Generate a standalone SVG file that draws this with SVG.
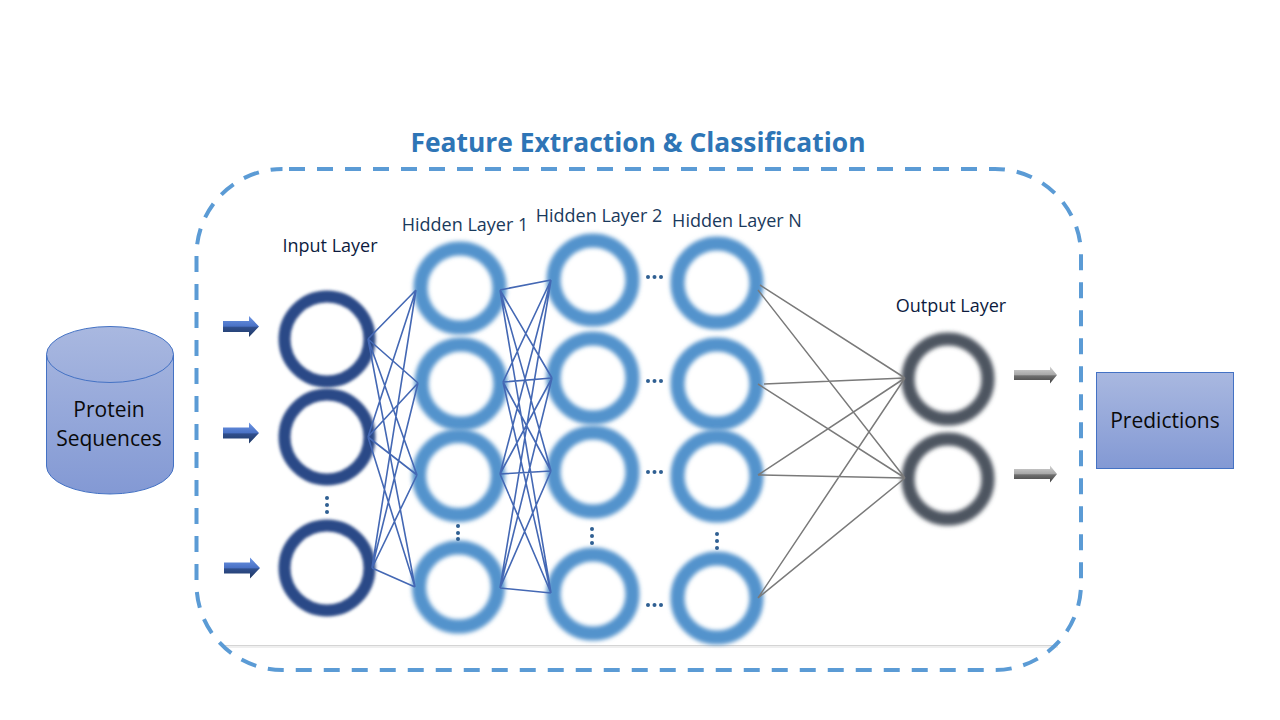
<svg xmlns="http://www.w3.org/2000/svg" xmlns:xlink="http://www.w3.org/1999/xlink" width="1280" height="720" viewBox="0 0 1280 720">
<style>
text{font-family:"Open Sans","Noto Sans","Liberation Sans",sans-serif;text-anchor:middle}
.in{fill:none;stroke:#2B4A87;stroke-width:12;filter:url(#b1)}
.hid{fill:none;stroke:#5393CC;stroke-width:14;filter:url(#b)}
.out{fill:none;stroke:#4D5560;stroke-width:13;filter:url(#b)}
.bl{stroke:#4468B4;stroke-width:1.600;fill:none}
.gr{stroke:#7A7A7A;stroke-width:1.500;fill:none}
.lab{font-size:18px;fill:#1A3A5C}
.lab2{font-size:18px;fill:#0D1B3E}
.dot{fill:#2F5F92}
.node{font-size:21px;fill:#0A0A0A}
.shape{fill:url(#g);stroke:#4472C4;stroke-width:1}
</style>
<defs>
<filter id="b" x="-20%" y="-20%" width="140%" height="140%"><feGaussianBlur stdDeviation="2.200"/></filter>
<filter id="b1" x="-20%" y="-20%" width="140%" height="140%"><feGaussianBlur stdDeviation="1.500"/></filter>
<linearGradient id="g" x1="0" y1="0" x2="0" y2="1"><stop offset="0" stop-color="#A9B8E0"/><stop offset="1" stop-color="#8399D4"/></linearGradient>
<linearGradient id="ab" x1="0" y1="0" x2="0" y2="1"><stop offset="0" stop-color="#6E96E4"/><stop offset="0.48" stop-color="#4A72C6"/><stop offset="0.55" stop-color="#2F4E8C"/><stop offset="1" stop-color="#1F3864"/></linearGradient>
<linearGradient id="ag" x1="0" y1="0" x2="0" y2="1"><stop offset="0" stop-color="#D4D4D4"/><stop offset="0.48" stop-color="#A8A8A8"/><stop offset="0.55" stop-color="#707070"/><stop offset="1" stop-color="#404040"/></linearGradient>
<polygon id="ah" points="0,-5.500 26,-5.500 26,-10.500 36,0 26,10.500 26,5.500 0,5.500"/>
<polygon id="ah2" points="0,-5 36,-5 36,-8.500 43,0 36,8.500 36,5 0,5"/>
</defs>
<rect width="1280" height="720" fill="#fff"/>
<text x="638" y="152" font-size="26.400" font-weight="700" fill="#2E75B6">Feature Extraction &amp; Classification</text>
<g id="frame-base"><rect x="222" y="645" width="836" height="3" fill="#EFEFEF"/><line x1="222" y1="645.5" x2="1058" y2="645.5" stroke="#D4D4D4"/></g>
<rect id="frame" x="196.500" y="169" width="884.500" height="501" rx="86" ry="86" fill="none" stroke="#5B9BD5" stroke-width="4" stroke-dasharray="16 12" stroke-dashoffset="-6.500"/>
<g id="protein-sequences"><path class="shape" d="M46.500 354.500A63.500 28 0 0 1 173.500 354.500V466A63.500 28 0 0 1 46.500 466Z"/><path d="M46.500 354.500A63.500 28 0 0 0 173.500 354.500" fill="none" stroke="#4472C4"/><text class="node" x="109" y="417">Protein</text><text class="node" x="109" y="446">Sequences</text></g>
<g id="input-layer"><text class="lab2" x="330" y="252">Input Layer</text><circle class="in" cx="327" cy="339" r="42.500"/><circle class="in" cx="327" cy="437" r="42.500"/><circle class="in" cx="327" cy="568" r="42.500"/><circle class="dot" cx="327" cy="498" r="2"/><circle class="dot" cx="327" cy="505" r="2"/><circle class="dot" cx="327" cy="512" r="2"/></g>
<g id="hidden-1"><text class="lab" x="465" y="231">Hidden Layer 1</text><circle class="hid" cx="460" cy="288" r="39.500"/><circle class="hid" cx="461" cy="384" r="39.500"/><circle class="hid" cx="458.500" cy="475.500" r="39.500"/><circle class="hid" cx="458.500" cy="587" r="39.500"/><circle class="dot" cx="458" cy="526" r="2"/><circle class="dot" cx="458" cy="533" r="2"/><circle class="dot" cx="458" cy="539" r="2"/></g>
<g id="hidden-2"><text class="lab" x="599" y="222">Hidden Layer 2</text><circle class="hid" cx="593" cy="280" r="39.500"/><circle class="hid" cx="593" cy="378" r="39.500"/><circle class="hid" cx="593" cy="472" r="39.500"/><circle class="hid" cx="593" cy="594" r="39.500"/><circle class="dot" cx="592" cy="529" r="2"/><circle class="dot" cx="592" cy="536" r="2"/><circle class="dot" cx="592" cy="543" r="2"/><circle class="dot" cx="648" cy="277" r="2"/><circle class="dot" cx="654.500" cy="277" r="2"/><circle class="dot" cx="661" cy="277" r="2"/><circle class="dot" cx="648" cy="381" r="2"/><circle class="dot" cx="654.500" cy="381" r="2"/><circle class="dot" cx="661" cy="381" r="2"/><circle class="dot" cx="648" cy="472" r="2"/><circle class="dot" cx="654.500" cy="472" r="2"/><circle class="dot" cx="661" cy="472" r="2"/><circle class="dot" cx="648" cy="605" r="2"/><circle class="dot" cx="654.500" cy="605" r="2"/><circle class="dot" cx="661" cy="605" r="2"/></g>
<g id="hidden-n"><text class="lab" x="737" y="227">Hidden Layer N</text><circle class="hid" cx="717" cy="283" r="39.500"/><circle class="hid" cx="717" cy="384" r="39.500"/><circle class="hid" cx="717" cy="476" r="39.500"/><circle class="hid" cx="717" cy="598" r="39.500"/><circle class="dot" cx="717" cy="534" r="2"/><circle class="dot" cx="717" cy="541" r="2"/><circle class="dot" cx="717" cy="548" r="2"/></g>
<g id="output-layer"><text class="lab2" x="951" y="312">Output Layer</text><circle class="out" cx="948" cy="379" r="40"/><circle class="out" cx="948" cy="479" r="40"/></g>
<g id="predictions"><rect class="shape" x="1096.500" y="372.500" width="137" height="96"/><text class="node" x="1165" y="428">Predictions</text></g>
<g id="connectors">
<path class="bl" d="M368 339L416 290M368 339L418 383M368 339L417 475M368 339L415 587M368 437L416 290M368 437L418 383M368 437L417 475M368 437L415 587M372 568L416 290M372 568L418 383M372 568L417 475M372 568L415 587"/>
<path class="bl" d="M500 290L551 280M500 290L552 378M500 290L551 471M500 290L551 593M503 382L551 280M503 382L552 378M503 382L551 471M503 382L551 593M500 474L551 280M500 474L552 378M500 474L551 471M500 474L551 593M500 588L551 280M500 588L552 378M500 588L551 471M500 588L551 593"/>
<path class="gr" d="M760 285L905 378M758 290L905 478M764 384L905 378M758 384L905 478M758 475L905 378M758 475L905 478M758 598L905 378M758 598L905 478"/>
<g fill="url(#ab)"><use xlink:href="#ah" x="223" y="326.500"/><use xlink:href="#ah" x="223" y="433"/><use xlink:href="#ah" x="224" y="568"/></g>
<g fill="url(#ag)"><use xlink:href="#ah2" x="1014" y="375"/><use xlink:href="#ah2" x="1014" y="474"/></g>
</g>
</svg>
